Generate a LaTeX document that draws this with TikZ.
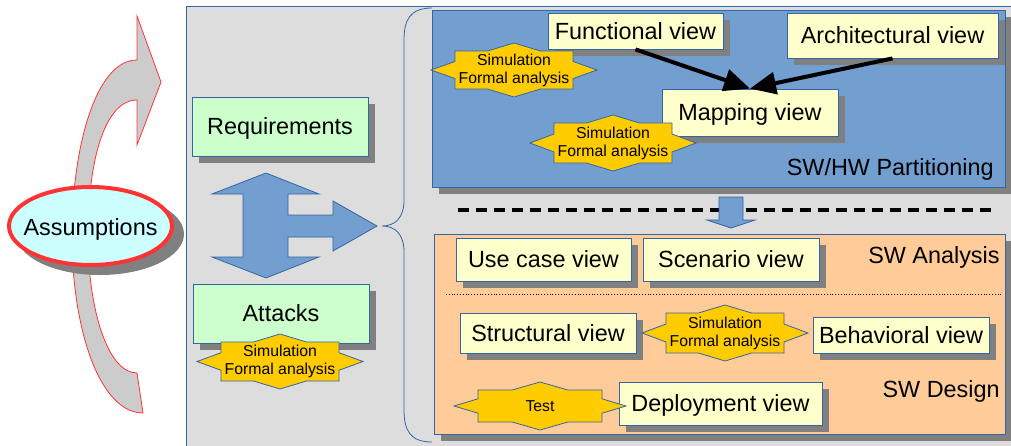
\documentclass[tikz,border=0pt]{standalone}
\usepackage{fontspec}
\setmainfont{Liberation Sans}
\usepackage{tikz}
\usetikzlibrary{arrows.meta,shapes.geometric,shadows}
\definecolor{lineblue}{RGB}{52,101,164}
\definecolor{panelblue}{RGB}{114,159,207}
\definecolor{panelgray}{RGB}{221,221,221}
\definecolor{panelorange}{RGB}{255,204,153}
\definecolor{viewyellow}{RGB}{255,255,204}
\definecolor{reqgreen}{RGB}{204,255,204}
\definecolor{burstgold}{RGB}{255,204,0}
\definecolor{shadowgray}{RGB}{128,128,128}
\definecolor{assumred}{RGB}{255,51,51}
\definecolor{assumcyan}{RGB}{204,255,255}
\definecolor{loopgray}{RGB}{204,204,204}
\tikzstyle{boxshadow} = [drop shadow={shadow xshift=3.5pt,shadow yshift=-3.5pt,fill=shadowgray,opacity=1}]
\tikzstyle{view} = [draw=lineblue,fill=viewyellow,inner sep=0pt,text depth=0pt,boxshadow,font=\fontsize{11.7}{14}\selectfont]
\tikzstyle{goal} = [view,fill=reqgreen]
\tikzstyle{panel} = [draw=lineblue,boxshadow]
\tikzstyle{burstline} = [draw=lineblue,fill=burstgold]
\tikzstyle{bursttext} = [align=center,inner sep=0pt,font=\fontsize{7.9}{9}\selectfont]
\tikzstyle{viewarrow} = [line width=2pt,-{Triangle[length=13pt,width=11pt]}]
\tikzstyle{fatarrow} = [draw=lineblue,fill=panelblue]
\tikzstyle{phase} = [anchor=base east,inner sep=0pt,font=\fontsize{11.7}{14}\selectfont]
% star-like badge: name, x, y, half width, half height, text
\newcommand{\burst}[6]{%
  \draw[burstline,shift={(#2,#3)}] ({-#4-24},0) -- (-#4,{-0.45*#5}) -- (-#4,-#5) -- ({-0.45*#4},-#5)
    -- (0,{-#5-8}) -- ({0.45*#4},-#5) -- (#4,-#5) -- (#4,{-0.45*#5}) -- ({#4+24},0)
    -- (#4,{0.45*#5}) -- (#4,#5) -- ({0.45*#4},#5) -- (0,{#5+8}) -- ({-0.45*#4},#5)
    -- (-#4,#5) -- (-#4,{0.45*#5}) -- cycle;
  \node[bursttext] (#1) at (#2,#3) {#6};}

\begin{document}
\begin{tikzpicture}[x=0.5pt,y=-0.5pt]
\useasboundingbox (0,0) rectangle (1011,445);
% Background and brace
\draw[draw=lineblue,fill=panelgray] (186,6) rectangle (1020,455);
\draw[lineblue] (432,8) .. controls (410,8) and (404,20) .. (404,40) -- (404,200)
  .. controls (404,218) and (395,226) .. (382,226) .. controls (395,226) and (404,234) .. (404,252)
  -- (404,410) .. controls (404,430) and (410,442) .. (432,442);

% Assumptions loop
\draw[draw=assumred,fill=loopgray] (143,413) .. controls (100,413) and (72,330) .. (72,236)
  .. controls (72,150) and (95,60) .. (137,60) -- (137,16) -- (161,82) -- (137,145) -- (137,100)
  .. controls (105,100) and (88,160) .. (88,236) .. controls (88,310) and (108,373) .. (137,373) -- cycle;
\fill[shadowgray] (100,234) ellipse [x radius=84, y radius=41];
\draw[draw=assumred,line width=2pt,fill=assumcyan] (90.5,226) ellipse [x radius=81.5, y radius=39];
\node[text depth=0pt,inner sep=0pt,font=\fontsize{11.7}{14}\selectfont] (assum) at (90.5,227) {Assumptions};

% Requirements and attacks
\node[goal,minimum width=88pt,minimum height=29.5pt] (req) at (280,126.5) {Requirements};
\node[goal,minimum width=88pt,minimum height=29.5pt] (atk) at (281,313.5) {Attacks};
\draw[fatarrow] (266,173) -- (319,194) -- (288,194) -- (288,215) -- (333,215) -- (333,201) -- (377,226)
  -- (333,251) -- (333,237) -- (288,237) -- (288,257) -- (319,257) -- (266,278) -- (212,257)
  -- (243,257) -- (243,194) -- (212,194) -- cycle;
\burst{simatk}{280}{361.5}{59}{19.5}{Simulation\\Formal analysis}

% Panels
\draw[panel,fill=panelblue] (432,10) rectangle (1005,187);
\draw[panel,fill=panelorange] (434,234) rectangle (1005,434);
\draw[line width=2pt,dash pattern=on 5.5pt off 3.5pt] (458,210) -- (994,210);
\draw[fatarrow] (719,197) -- (743,197) -- (743,220) -- (755,220) -- (731,228) -- (707,220) -- (719,220) -- cycle;
\draw[densely dotted] (446,294) -- (1001,294);

% SW/HW partitioning views
\node[view,minimum width=87.5pt,minimum height=18pt] (fv) at (635.5,31) {Functional view};
\node[view,minimum width=105.5pt,minimum height=22.5pt] (av) at (892.5,35.5) {Architectural view};
\node[view,minimum width=88pt,minimum height=23.5pt] (mv) at (750,112.5) {Mapping view};
\draw[viewarrow] (fv.south) -- (mv.north);
\draw[viewarrow] (av.south) -- (mv.north);
\burst{simtop}{514}{70}{59}{19}{Simulation\\Formal analysis}
\burst{simmap}{613}{143}{59}{20}{Simulation\\Formal analysis}

% SW analysis and design views
\node[view,minimum width=87.5pt,minimum height=21.5pt] (ucv) at (543.5,259.5) {Use case view};
\node[view,minimum width=88pt,minimum height=21.5pt] (scv) at (731,259.5) {Scenario view};
\node[view,minimum width=88pt,minimum height=20pt] (stv) at (548,333) {Structural view};
\node[view,minimum width=88pt,minimum height=18pt] (bhv) at (901,335) {Behavioral view};
\node[view,minimum width=101.5pt,minimum height=21.5pt] (dpv) at (720.5,403.5) {Deployment view};
\burst{simdes}{725}{333}{59}{20}{Simulation\\Formal analysis}
\burst{testdep}{540}{406}{62}{16}{Test}

% Labels
\node[phase] (hwlabel) at (994,175) {SW/HW Partitioning};
\node[phase] (analabel) at (1000,263) {SW Analysis};
\node[phase] (deslabel) at (1000,397) {SW Design};
\end{tikzpicture}
\end{document}
